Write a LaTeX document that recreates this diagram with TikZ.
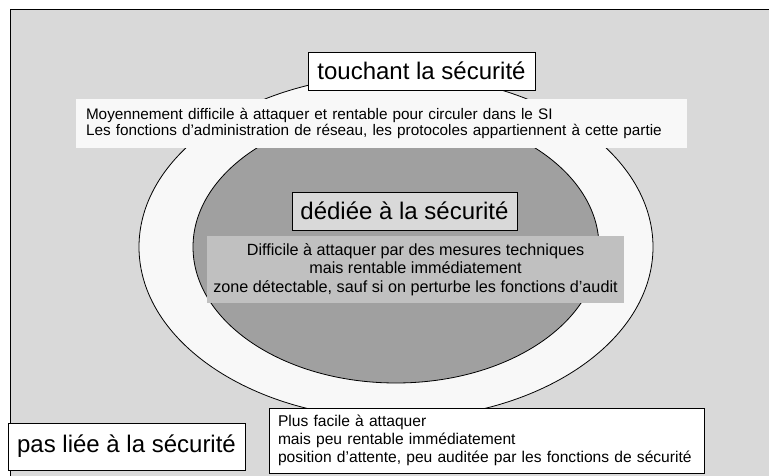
\documentclass[tikz,border=0pt]{standalone}
\usepackage{fontspec}
\setmainfont{Liberation Sans}
\usepackage{tikz}
\usetikzlibrary{calc}

\definecolor{fond}{RGB}{217,217,217}
\definecolor{clair}{RGB}{248,248,248}
\definecolor{sombre}{RGB}{160,160,160}
\definecolor{moyen}{RGB}{192,192,192}

\begin{document}
\begin{tikzpicture}[x=1pt,y=-1pt]
		\tikzset{titre/.style={draw,line width=0.8pt,inner sep=0pt,font=\fontsize{24}{28}\selectfont}}
		\tikzset{texte/.style={inner sep=0pt,font=\fontsize{15.6}{18.3}\selectfont}}
		\useasboundingbox (0,0) rectangle (769,476);
		
		%Zones
		\fill[fond] (10,9) rectangle (769,476);
		\draw[line width=0.8pt] (10,476) -- (10,9) -- (769,9);
		\draw[line width=0.8pt,fill=clair] (396,247) ellipse [x radius=257pt,y radius=172pt];
		\draw[line width=0.8pt,fill=sombre] (396,247) ellipse [x radius=203pt,y radius=136pt];
		
		\coordinate (c_touch) at (421.5,71);
		\coordinate (c_ded) at (404.5,211);
		
		\node (1) at (c_touch) [titre,fill=white,minimum width=227pt,minimum height=38pt] {touchant la sécurité};
		\node (2) at (381.5,123.5) [texte,fill=clair,inner xsep=10pt,text width=591pt,minimum height=49pt,align=left,font=\fontsize{15.3}{16}\selectfont] {Moyennement difficile à attaquer et rentable pour circuler dans le SI\\Les fonctions d’administration de réseau, les protocoles appartiennent à cette partie};
		\node (3) at (c_ded) [titre,fill=fond,minimum width=225pt,minimum height=38pt] {dédiée à la sécurité};
		\node (4) at (415.5,269.5) [texte,fill=moyen,minimum width=417pt,minimum height=67pt,align=center,font=\fontsize{16.2}{18.3}\selectfont] {Difficile à attaquer par des mesures techniques\\mais rentable immédiatement\\zone détectable, sauf si on perturbe les fonctions d’audit};
		\node (5) at (126.5,446.5) [titre,fill=white,minimum width=237pt,minimum height=47pt] {pas liée à la sécurité};
		\node (6) at (486.5,440.5) [texte,draw,line width=0.8pt,fill=white,inner xsep=9pt,text width=417pt,minimum height=65pt,align=left] {Plus facile à attaquer\\mais peu rentable immédiatement\\position d’attente, peu auditée par les fonctions de sécurité};
	\end{tikzpicture}
\end{document}
